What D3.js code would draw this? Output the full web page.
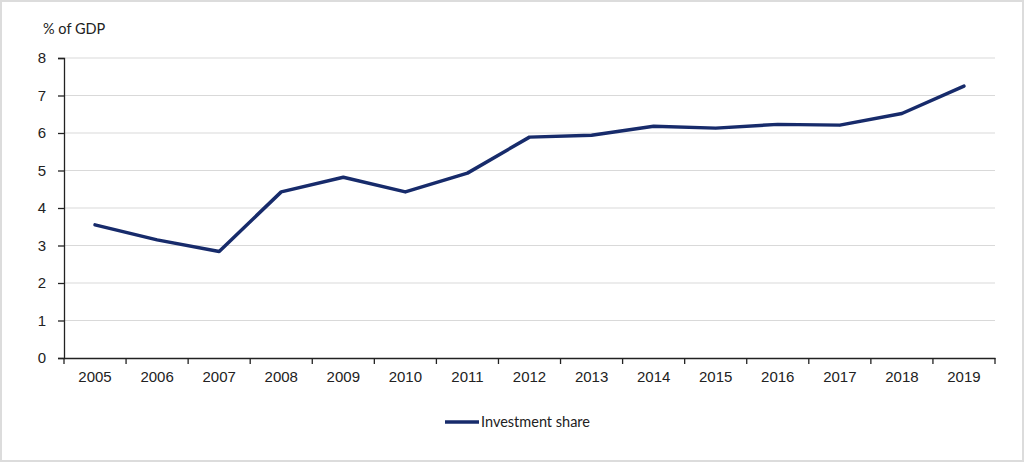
<!DOCTYPE html>
<html lang="en">
<head>
    <meta charset="UTF-8">
    <title>Investment share</title>
    <script src="https://d3js.org/d3.v7.min.js"></script>
    <style>
        body { margin: 0; background: #fff; }
        svg { display: block; font-family: Lato, 'Open Sans', sans-serif; }
    </style>
</head>
<body>
    <div id="chart-container"></div>
    <script>
        const years = ["2005", "2006", "2007", "2008", "2009", "2010", "2011", "2012",
                       "2013", "2014", "2015", "2016", "2017", "2018", "2019"];
        const investmentShare = [3.55, 3.15, 2.84, 4.43, 4.82, 4.43, 4.93, 5.89,
                                 5.94, 6.18, 6.13, 6.23, 6.21, 6.52, 7.25];
        const yTicks = [0, 1, 2, 3, 4, 5, 6, 7, 8];
        const seriesName = "Investment share";
        const yTitle = "% of GDP";

        const width = 1024, height = 463;
        const margin = { top: 58, right: 29, bottom: 105, left: 64 };
        const innerW = width - margin.left - margin.right;
        const innerH = height - margin.top - margin.bottom;
        const navy = "#172b6b";

        const svg = d3.select("#chart-container").append("svg")
            .attr("width", width)
            .attr("height", height);

        // light frame round the picture
        svg.append("rect")
            .attr("x", 1).attr("y", 1)
            .attr("width", width - 2).attr("height", height - 3)
            .attr("fill", "none")
            .attr("stroke", "#dcdcdc")
            .attr("stroke-width", 2);

        const g = svg.append("g")
            .attr("transform", `translate(${margin.left}, ${margin.top})`);

        const x = d3.scaleBand().domain(years).range([0, innerW]);
        const y = d3.scaleLinear().domain([0, 8]).range([innerH, 0]);

        // gridlines
        g.append("g")
            .selectAll("line")
            .data(yTicks.filter(d => d > 0))
            .join("line")
            .attr("x1", 0).attr("x2", innerW)
            .attr("y1", d => y(d)).attr("y2", d => y(d))
            .attr("stroke", "#d9d9d9")
            .attr("stroke-width", 1);

        // y axis
        const yAxis = g.append("g")
            .call(d3.axisLeft(y).tickValues(yTicks).tickSize(6).tickPadding(12));
        yAxis.select(".domain").attr("stroke", "#222").attr("stroke-width", 1.3);
        yAxis.selectAll(".tick line").attr("stroke", "#222").attr("stroke-width", 1.3);
        yAxis.selectAll("text").attr("font-size", 15).attr("fill", "#222");

        // x axis with ticks on band edges
        const xAxis = g.append("g")
            .attr("transform", `translate(0, ${innerH})`)
            .call(d3.axisBottom(x).tickSize(0).tickPadding(13));
        xAxis.select(".domain").attr("stroke", "#222").attr("stroke-width", 1.3);
        xAxis.selectAll("text").attr("font-size", 15).attr("fill", "#222");
        xAxis.selectAll(".edge")
            .data(years.concat(["end"]))
            .join("line")
            .attr("class", "edge")
            .attr("x1", (d, i) => i < years.length ? x(d) : innerW)
            .attr("x2", (d, i) => i < years.length ? x(d) : innerW)
            .attr("y1", 0).attr("y2", 6)
            .attr("stroke", "#222").attr("stroke-width", 1.3);

        // line
        const line = d3.line()
            .x((d, i) => x(years[i]) + x.bandwidth() / 2)
            .y(d => y(d));

        g.append("path")
            .datum(investmentShare)
            .attr("d", line)
            .attr("fill", "none")
            .attr("stroke", navy)
            .attr("stroke-width", 3.5)
            .attr("stroke-linejoin", "round")
            .attr("stroke-linecap", "round");

        // y title
        svg.append("text")
            .attr("x", 43).attr("y", 34)
            .attr("font-size", 14.5)
            .attr("fill", "#222")
            .text(yTitle);

        // legend
        const legend = svg.append("g").attr("transform", "translate(445, 422)");
        legend.append("line")
            .attr("x1", 0).attr("x2", 34)
            .attr("stroke", navy).attr("stroke-width", 3.5);
        legend.append("text")
            .attr("x", 36).attr("y", 5)
            .attr("font-size", 14.5)
            .attr("fill", "#222")
            .text(seriesName);
    </script>
</body>
</html>
